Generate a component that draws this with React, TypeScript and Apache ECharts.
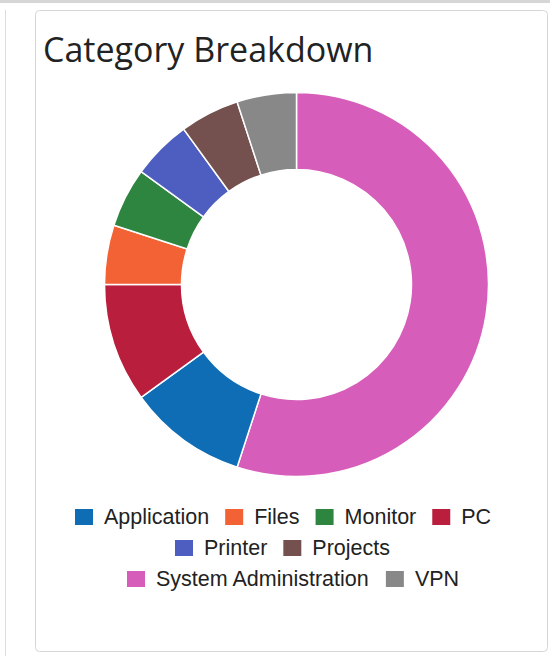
import React, { useEffect, useRef } from "react";
import * as echarts from "echarts";

const categories = ["System Administration", "Application", "PC", "Files", "Monitor", "Printer", "Projects", "VPN"];
const values = [11, 2, 2, 1, 1, 1, 1, 1];
const colors = ["#d75dbb", "#0e6db5", "#b91f3d", "#f26234", "#2e8540", "#4d5ec0", "#74504f", "#888888"];
const legendRows = [
  ["Application", "Files", "Monitor", "PC"],
  ["Printer", "Projects"],
  ["System Administration", "VPN"],
];
const legendRowLeft = [75, 175, 127];
const legendRowTop = [506, 537, 568];
const title = "Category Breakdown";

export default function App() {
  const ref = useRef<HTMLDivElement>(null);
  useEffect(() => {
    if (!ref.current) return;
    const chart = echarts.init(ref.current, undefined, { renderer: "svg" });
    chart.setOption({
      animation: false,
      backgroundColor: "#ffffff",
      graphic: [
        { type: "rect", z: -10, shape: { x: 0, y: 0, width: 550, height: 3 }, style: { fill: "#d6d6d6" } },
        { type: "line", z: -10, shape: { x1: 5.5, y1: 10, x2: 5.5, y2: 656 }, style: { stroke: "#dddddd", lineWidth: 1 } },
        {
          type: "rect",
          z: -10,
          shape: { x: 35.5, y: 10.5, width: 512, height: 641, r: 4 },
          style: { fill: "#ffffff", stroke: "#d6d6d6", lineWidth: 1 },
        },
        {
          type: "text",
          x: 43,
          y: 49,
          style: {
            text: title,
            fontFamily: "Open Sans",
            fontSize: 34,
            fill: "#222222",
            verticalAlign: "middle",
            align: "left",
          },
        },
      ],
      legend: legendRows.map((row, i) => ({
        data: row,
        orient: "horizontal",
        left: legendRowLeft[i],
        top: legendRowTop[i],
        padding: 0,
        itemWidth: 18,
        itemHeight: 16,
        itemGap: 16,
        icon: "rect",
        selectedMode: false,
        itemStyle: { borderWidth: 0 },
        textStyle: {
          fontFamily: "Liberation Sans",
          fontSize: 21.5,
          color: "#222222",
          padding: [0, 0, 0, 6],
        },
      })),
      series: [
        {
          type: "pie",
          center: [296.5, 284.5],
          radius: [115, 192],
          startAngle: 90,
          clockwise: true,
          label: { show: false },
          labelLine: { show: false },
          itemStyle: { borderColor: "#ffffff", borderWidth: 1.5 },
          emphasis: { disabled: true },
          data: categories.map((name, i) => ({
            name,
            value: values[i],
            itemStyle: { color: colors[i] },
          })),
        },
      ],
    });
    return () => chart.dispose();
  }, []);
  return (
    <div
      ref={ref}
      style={{ position: "absolute", left: 0, top: 0, width: 550, height: 656 }}
    />
  );
}
